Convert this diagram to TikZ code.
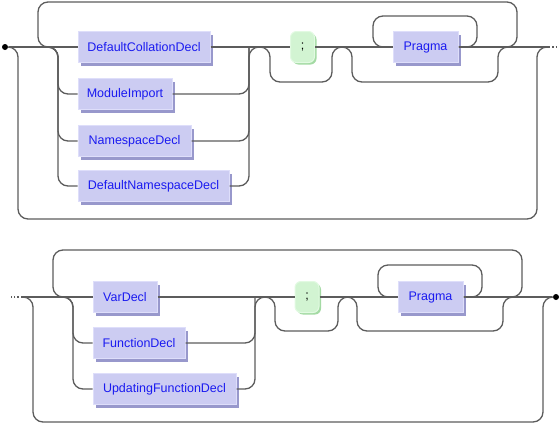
\documentclass[tikz,border=0pt]{standalone}
\usepackage{fontspec}
\newfontfamily\rrfont{Liberation Sans}
\usetikzlibrary{shadows}
\definecolor{railgray}{HTML}{5C5C5C}
\definecolor{ntfill}{HTML}{CCCCF2}
\definecolor{ntedge}{HTML}{DEDEFA}
\definecolor{ntshadow}{HTML}{9898CC}
\definecolor{tfill}{HTML}{D2F4D2}
\definecolor{tedge}{HTML}{E2FAE2}
\definecolor{tshadow}{HTML}{A4DAA4}
\definecolor{nttext}{HTML}{1A1AF0}

\begin{document}
\begin{tikzpicture}[x=1pt,y=-1pt,line width=1.3pt,rounded corners=10pt]
    \tikzstyle{nonterm}=[rectangle,rounded corners=0pt,fill=ntfill,draw=ntedge,line width=1pt,
      minimum height=31pt,inner sep=0pt,font=\rrfont\fontsize{12.5}{14}\selectfont,text=nttext,
      drop shadow={shadow xshift=3pt,shadow yshift=-3pt,fill=ntshadow,opacity=1}]
    \tikzstyle{term}=[rectangle,rounded corners=6pt,fill=tfill,draw=tedge,line width=1pt,
      minimum height=31pt,minimum width=24pt,inner sep=0pt,font=\rrfont\fontsize{12.5}{14}\selectfont,
      drop shadow={shadow xshift=2pt,shadow yshift=-2pt,fill=tshadow,opacity=1}]
    \tikzstyle{rail}=[draw=railgray]
    \tikzstyle{vertex}=[circle,fill=black,minimum size=6pt,inner sep=0pt]
    \useasboundingbox (0,0) rectangle (560,424);
    % first row
    \node[vertex] (start) at (5,47) {};
    \node[nonterm,minimum width=132pt] (dcd) at (144,47) {DefaultCollationDecl};
    \node[nonterm,minimum width=94pt] (mi) at (125,94) {ModuleImport};
    \node[nonterm,minimum width=113pt] (nsd) at (134.5,141) {NamespaceDecl};
    \node[nonterm,minimum width=151pt] (dnd) at (153.5,186) {DefaultNamespaceDecl};
    \node[term] (semi_1) at (302.5,47) {;};
    \node[nonterm,minimum width=65pt] (prag_1) at (425.5,47) {Pragma};
    \coordinate (cont_1) at (549,47);
    \draw[rail] (start) -- (dcd.west);
    \draw[rail] (dcd.east) -- (semi_1.west);
    \draw[rail] (semi_1.east) -- (prag_1.west);
    \draw[rail] (prag_1.east) -- (cont_1);
    \draw[rail,dotted,rounded corners=0pt] (cont_1) -- ++(9,0);
    \draw[rail] (start) -| (18,219) -| (537,47) -- (cont_1);
    \draw[rail] (507,47) -| (517,2) -| (38,47) -- (48,47);
    \draw[rail] (48,47) -| (58,94) -- (mi.west);
    \draw[rail] (48,47) -| (58,141) -- (nsd.west);
    \draw[rail] (48,47) -| (58,186) -- (dnd.west);
    \draw[rail] (mi.east) -| (249,47) -- (259,47);
    \draw[rail] (nsd.east) -| (249,47);
    \draw[rail] (dnd.east) -| (249,47);
    \draw[rail] (260,47) -| (270,82) -| (332,47) -- (342,47);
    \draw[rail] (342,47) -| (352,82) -| (498,47) -- (508,47);
    \draw[rail] (prag_1.east) -| (477,16) -| (373,47) -- (prag_1.west);
    % second row
    \coordinate (cont_2) at (22,297);
    \node[nonterm,minimum width=64pt] (vd) at (125,297) {VarDecl};
    \node[nonterm,minimum width=92pt] (fd) at (139,343) {FunctionDecl};
    \node[nonterm,minimum width=143pt] (ufd) at (164.5,389) {UpdatingFunctionDecl};
    \node[term] (semi_2) at (307,297) {;};
    \node[nonterm,minimum width=65pt] (prag_2) at (430.5,297) {Pragma};
    \node[vertex] (stop) at (556,297) {};
    \draw[rail,dotted,rounded corners=0pt] (cont_2) -- ++(-11,0);
    \draw[rail] (cont_2) -- (vd.west);
    \draw[rail] (vd.east) -- (semi_2.west);
    \draw[rail] (semi_2.east) -- (prag_2.west);
    \draw[rail] (prag_2.east) -- (stop);
    \draw[rail] (cont_2) -| (33,422) -| (543,297) -- (stop);
    \draw[rail] (512,297) -| (522,250) -| (53,297) -- (63,297);
    \draw[rail] (63,297) -| (73,343) -- (fd.west);
    \draw[rail] (63,297) -| (73,389) -- (ufd.west);
    \draw[rail] (fd.east) -| (255,297) -- (265,297);
    \draw[rail] (ufd.east) -| (255,297);
    \draw[rail] (265,297) -| (275,331) -| (338,297) -- (348,297);
    \draw[rail] (347,297) -| (357,331) -| (503,297) -- (513,297);
    \draw[rail] (prag_2.east) -| (482,265) -| (378,297) -- (prag_2.west);
\end{tikzpicture}
\end{document}
